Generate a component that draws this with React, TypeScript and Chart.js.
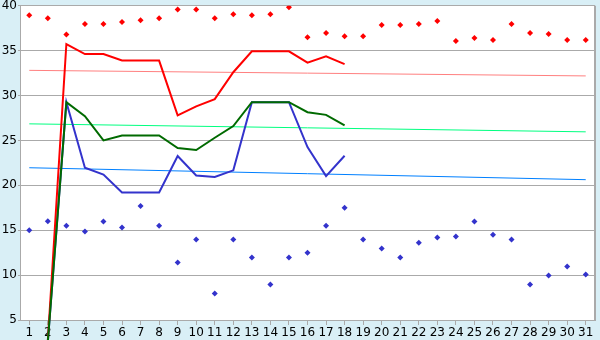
import React, { useEffect, useRef } from "react";
import { Chart, registerables } from "chart.js";

Chart.register(...registerables);

const days = ["1","2","3","4","5","6","7","8","9","10","11","12","13","14","15","16","17","18","19","20","21","22","23","24","25","26","27","28","29","30","31"];

const maxPoints = [38.96, 38.6, 36.8, 37.96, 37.96, 38.2, 38.4, 38.6, 39.6, 39.6, 38.6, 39.07, 38.96, 39.07, 39.85, 36.5, 36.96, 36.6, 36.6, 37.85, 37.85, 37.96, 38.3, 36.07, 36.4, 36.2, 37.96, 36.96, 36.85, 36.2, 36.2];
const minPoints = [15.0, 16.0, 15.5, 14.85, 15.96, 15.3, 17.7, 15.5, 11.4, 13.96, 7.96, 13.96, 11.96, 8.96, 11.96, 12.5, 15.5, 17.5, 13.96, 12.96, 11.96, 13.6, 14.2, 14.3, 15.96, 14.5, 13.96, 8.96, 9.96, 10.96, 10.07];

const redLine = [null, 2.7, 35.74, 34.63, 34.63, 33.9, 33.9, 33.9, 27.8, 28.8, 29.6, 32.6, 34.93, 34.93, 34.93, 33.67, 34.37, 33.5];
const greenLine = [null, 2.6, 29.26, 27.7, 25.0, 25.56, 25.56, 25.56, 24.15, 23.93, 25.3, 26.6, 29.26, 29.26, 29.26, 28.15, 27.85, 26.67];
const blueLine = [null, 2.6, 29.26, 21.96, 21.2, 19.2, 19.2, 19.2, 23.26, 21.1, 20.93, 21.67, 29.26, 29.26, 29.26, 24.26, 21.03, 23.3];

const trendDays = ["1", "31"];
const redTrend = [32.81, 32.19];
const greenTrend = [26.85, 25.96];
const blueTrend = [21.96, 20.63];

const yTicks = [5, 10, 15, 20, 25, 30, 35, 40];

const toXY = (xs: string[], ys: number[]) => xs.map((x, i) => ({ x, y: ys[i] }));

const bgPlugin = {
  id: "bgPlugin",
  beforeDraw(chart: any) {
    const { ctx, chartArea: a, width, height } = chart;
    ctx.save();
    ctx.fillStyle = "#d9eff6";
    ctx.fillRect(0, 0, width, height);
    ctx.fillStyle = "#ffffff";
    ctx.fillRect(a.left, a.top, a.right - a.left, a.bottom - a.top);
    ctx.restore();
  },
  afterDraw(chart: any) {
    const { ctx, chartArea: a } = chart;
    ctx.save();
    ctx.strokeStyle = "#aaaaaa";
    ctx.lineWidth = 2;
    ctx.beginPath();
    ctx.moveTo(a.right, a.top);
    ctx.lineTo(a.right, a.bottom);
    ctx.stroke();
    ctx.restore();
  },
};

export default function App() {
  const ref = useRef<HTMLCanvasElement | null>(null);
  useEffect(() => {
    document.body.style.margin = "0";
    if (!ref.current) return;
    Chart.defaults.font.family = "'DejaVu Sans', sans-serif";
    Chart.defaults.font.size = 12;
    Chart.defaults.color = "#000";
    const pointCommon = {
      showLine: false,
      pointStyle: "rectRot" as const,
      pointRadius: 3,
      pointBorderWidth: 0,
      order: 0,
    };
    const chart = new Chart(ref.current, {
      type: "line",
      data: {
        labels: days,
        datasets: [
          { label: "maxPts", data: maxPoints, pointBackgroundColor: "#ff0000", pointBorderColor: "#ff0000", ...pointCommon },
          { label: "minPts", data: minPoints, pointBackgroundColor: "#3333cc", pointBorderColor: "#3333cc", ...pointCommon },
          {
            label: "green",
            data: greenLine,
            borderColor: "#006a00",
            borderWidth: 2,
            pointRadius: 0,
            tension: 0,
            clip: false as any,
            order: 1,
          },
          {
            label: "red",
            data: redLine,
            borderColor: "#ff0000",
            borderWidth: 2,
            pointRadius: 0,
            tension: 0,
            clip: false as any,
            order: 2,
          },
          {
            label: "blue",
            data: blueLine,
            borderColor: "#3333cc",
            borderWidth: 2,
            pointRadius: 0,
            tension: 0,
            clip: false as any,
            order: 3,
          },
          {
            label: "redTrend",
            data: toXY(trendDays, redTrend) as any,
            borderColor: "#ff8080",
            borderWidth: 1,
            pointRadius: 0,
            order: 4,
          },
          {
            label: "greenTrend",
            data: toXY(trendDays, greenTrend) as any,
            borderColor: "#00ff80",
            borderWidth: 1,
            pointRadius: 0,
            order: 4,
          },
          {
            label: "blueTrend",
            data: toXY(trendDays, blueTrend) as any,
            borderColor: "#0080ff",
            borderWidth: 1,
            pointRadius: 0,
            order: 4,
          },
        ],
      },
      options: {
        responsive: false,
        animation: false,
        events: [],
        layout: { padding: { top: 5, right: 5, left: 0, bottom: 0 } },
        plugins: { legend: { display: false }, tooltip: { enabled: false } },
        scales: {
          x: {
            offset: true,
            grid: {
              drawOnChartArea: false,
              drawTicks: true,
              tickLength: 5,
              color: "#aaaaaa",
              offset: false,
            },
            border: { color: "#aaaaaa", width: 1 },
            ticks: { padding: 1, maxRotation: 0, autoSkip: false, color: "#000" },
            afterFit: (s: any) => { s.height = 20; },
          },
          y: {
            min: 5,
            max: 40,
            afterBuildTicks: (s: any) => { s.ticks = yTicks.map((v) => ({ value: v })); },
            grid: { color: "#aaaaaa", tickLength: 2 },
            border: { color: "#aaaaaa", width: 1 },
            ticks: { padding: 1, color: "#000", font: { size: 12, lineHeight: 0.8 } },
            afterFit: (s: any) => { s.width = 20; },
          },
        },
      },
      plugins: [bgPlugin],
    });
    return () => chart.destroy();
  }, []);
  return (
    <div style={{ width: 600, height: 340 }}>
      <canvas ref={ref} width={600} height={340} />
    </div>
  );
}
